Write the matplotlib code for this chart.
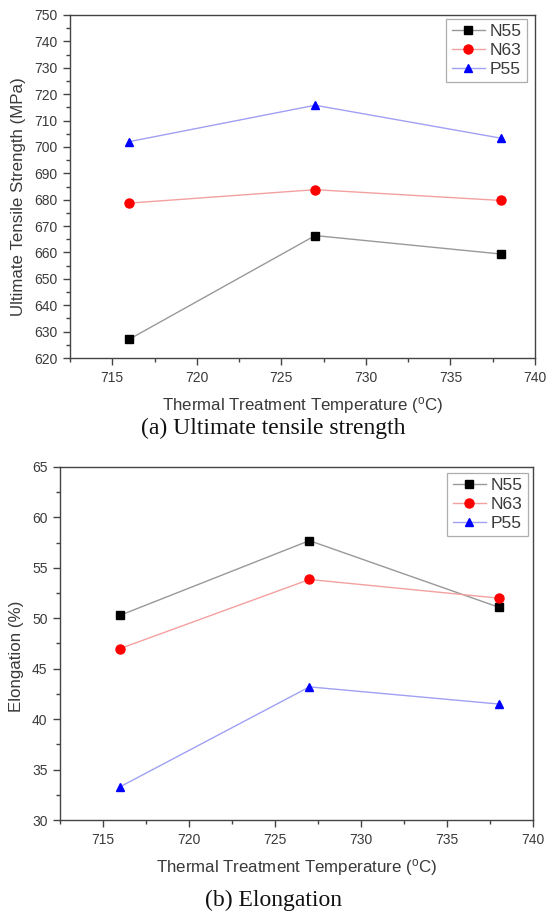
import matplotlib
matplotlib.use('Agg')
import matplotlib.pyplot as plt
from matplotlib.ticker import MultipleLocator

plt.rcParams['font.family'] = ['Liberation Sans', 'DejaVu Sans']
plt.rcParams['mathtext.fontset'] = 'custom'
plt.rcParams['mathtext.rm'] = 'Liberation Sans'
plt.rcParams['mathtext.it'] = 'Liberation Sans'

# heat treatment temperatures (C)
temps = [716, 727, 738]

# (a) ultimate tensile strength, MPa
uts_n55 = [627.1, 666.4, 659.4]
uts_n63 = [678.7, 683.8, 679.7]
uts_p55 = [702.0, 715.8, 703.3]

# (b) elongation, %
el_n55 = [50.3, 57.7, 51.1]
el_n63 = [47.0, 53.85, 52.0]
el_p55 = [33.3, 43.2, 41.5]

series_names = ['N55', 'N63', 'P55']
line_colors = ['#999999', '#f4a0a0', '#a0a0f4']
marker_colors = ['black', 'red', 'blue']
markers = ['s', 'o', '^']

txt = '#3a3a3a'
xlabel = 'Thermal Treatment Temperature (' + r'$^{\rm o}$' + 'C)'


def style_axes(ax, ymaj, ymin, xl_y, yl_x, yl_y):
    ax.set_xlim(712.5, 740)
    ax.xaxis.set_major_locator(MultipleLocator(5))
    ax.xaxis.set_minor_locator(MultipleLocator(2.5))
    ax.yaxis.set_major_locator(MultipleLocator(ymaj))
    ax.yaxis.set_minor_locator(MultipleLocator(ymin))
    ax.tick_params(which='both', direction='out', colors='#444444',
                   labelcolor=txt, labelsize=10, width=1)
    ax.tick_params(which='major', length=5, pad=4)
    ax.tick_params(which='minor', length=3)
    for s in ax.spines.values():
        s.set_color('#444444')
        s.set_linewidth(1)
    ax.set_xlabel(xlabel, fontsize=12.2, color=txt, va='center')
    ax.xaxis.set_label_coords(0.5, xl_y)
    ax.yaxis.set_label_coords(yl_x, yl_y)


def draw(ax, data, anchor):
    for vals, name, lc, mc, mk in zip(data, series_names, line_colors,
                                      marker_colors, markers):
        ax.plot(temps, vals, color=lc, linewidth=1, marker=mk,
                markersize=6 if mk != 'o' else 6.5, markerfacecolor=mc,
                markeredgecolor=mc, label=name)
    leg = ax.legend(loc='upper right', bbox_to_anchor=anchor, fontsize=12.5,
                    frameon=True, fancybox=False, edgecolor='#999999',
                    handlelength=1.9, handletextpad=0.3, borderpad=0.3,
                    labelspacing=0.2, borderaxespad=0)
    leg.get_frame().set_linewidth(0.9)
    for t in leg.get_texts():
        t.set_color(txt)


fig = plt.figure(figsize=(5.47, 9.11), dpi=100)
W, H = 547, 911

# (a)
ax1 = fig.add_axes([70 / W, 1 - 358 / H, (535 - 70) / W, (358 - 15) / H])
draw(ax1, [uts_n55, uts_n63, uts_p55], ((527 - 70) / (535 - 70), 1 - 4 / 343))
ax1.set_ylim(620, 750)
ax1.set_ylabel('Ultimate Tensile Strength (MPa)', fontsize=12.2, color=txt,
               va='center')
style_axes(ax1, 10, 5, -(405 - 358) / 343, -(70 - 19) / 465,
           (358 - 197) / 343)
fig.text(0.5, 1 - 428 / H, '(a) Ultimate tensile strength', ha='center',
         va='center', fontsize=17, family='Liberation Serif', color='#111111')

# (b)
ax2 = fig.add_axes([60 / W, 1 - 820 / H, (533 - 60) / W, (820 - 467) / H])
draw(ax2, [el_n55, el_n63, el_p55], ((528 - 60) / (533 - 60), 1 - 6 / 353))
ax2.set_ylim(30, 65)
ax2.set_ylabel('Elongation (%)', fontsize=12.2, color=txt, va='center')
style_axes(ax2, 5, 2.5, -(868 - 820) / 353, -(60 - 17) / 473,
           (820 - 656) / 353)
fig.text(0.5, 1 - 900 / H, '(b) Elongation', ha='center', va='center',
         fontsize=17, family='Liberation Serif', color='#111111')

fig.savefig('out.png', dpi=100)
plt.close(fig)
